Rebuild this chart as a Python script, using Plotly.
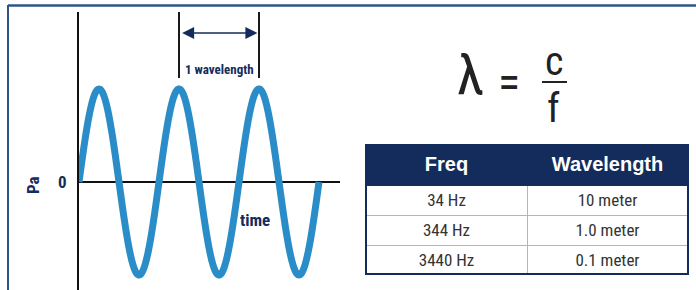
import numpy as np
import plotly.graph_objects as go

# ---- data ----
freq_labels = ["34 Hz", "344 Hz", "3440 Hz"]
wavelength_labels = ["10 meter", "1.0 meter", "0.1 meter"]
table_headers = ["Freq", "Wavelength"]
n_cycles = 3                 # number of full waves shown
wave_peak_marks = [1.25, 2.25]  # time (in periods) of the peaks bracketed as "1 wavelength"

W, H = 696, 290
NAVY = "#142c5c"
BLUE = "#2b8dc8"
BORDER = "#2f5588"
NARROW = "Liberation Sans Narrow, Roboto Condensed, Arial Narrow, Liberation Sans, Arial"
SANS = "Liberation Sans, Arial"


def px(x):
    return x / W


def py(y):
    return 1 - y / H


# wave illustration
t = np.linspace(0, n_cycles, 600)
pressure = np.sin(2 * np.pi * t)

fig = go.Figure()
fig.add_trace(go.Scatter(x=t, y=pressure, mode="lines",
                         line=dict(color=BLUE, width=7, shape="spline"),
                         hoverinfo="skip", showlegend=False))

# table
fig.add_trace(go.Table(
    domain=dict(x=[px(366), px(688)], y=[py(275), py(145)]),
    columnwidth=[1, 1],
    header=dict(values=["<b>%s</b>" % h for h in table_headers],
                fill_color=NAVY, line_color=NAVY, height=40, align="center",
                font=dict(color="white", size=20, family=SANS)),
    cells=dict(values=[freq_labels, wavelength_labels],
               fill_color="white", line_color="#b5b5b5", height=30, align="center",
               font=dict(color="#333333", size=17, family=NARROW)),
))

y_zero_px, amp_px = 182, 93
y_top_px, y_bot_px = 12, 290
x_left_px, x_right_px, period_px = 79, 340, 80

fig.update_layout(
    width=W, height=H, margin=dict(l=0, r=0, t=0, b=0),
    paper_bgcolor="white", plot_bgcolor="white",
    xaxis=dict(domain=[px(x_left_px), px(x_right_px)],
               range=[0, (x_right_px - x_left_px) / period_px],
               showgrid=False, zeroline=False, showticklabels=False, ticks="",
               showline=False, fixedrange=True),
    yaxis=dict(domain=[0, py(y_top_px)],
               range=[-(y_bot_px - y_zero_px) / amp_px, (y_zero_px - y_top_px) / amp_px],
               showgrid=False, zeroline=True, zerolinecolor="#111111", zerolinewidth=2,
               showline=True, linecolor="#111111", linewidth=2,
               tickvals=[0], ticktext=["<b>0</b>"], ticks="", ticklabelstandoff=7,
               tickfont=dict(size=17, color=NAVY, family=NARROW), fixedrange=True),
)


def note(x, y, text, size, color, ref="paper", family=NARROW, **kw):
    fig.add_annotation(x=x, y=y, xref=ref if ref == "paper" else "x", yref=ref if ref == "paper" else "y",
                       text=text, showarrow=False, xanchor="center", yanchor="middle",
                       font=dict(size=size, color=color, family=family), **kw)


mark_bottom = (y_zero_px - 78) / amp_px
mark_top = (y_zero_px - y_top_px) / amp_px
for tm in wave_peak_marks:
    fig.add_shape(type="line", xref="x", yref="y", x0=tm, x1=tm, y0=mark_bottom, y1=mark_top,
                  line=dict(color="#1a1a1a", width=2))

arrow_y = (y_zero_px - 33) / amp_px
fig.add_annotation(x=wave_peak_marks[1] - 0.02, y=arrow_y, ax=wave_peak_marks[0] + 0.02, ay=arrow_y,
                   xref="x", yref="y", axref="x", ayref="y", text="", showarrow=True,
                   arrowside="end+start", arrowhead=2, arrowsize=1.6, arrowwidth=1.5,
                   arrowcolor=NAVY)
note(sum(wave_peak_marks) / 2, (y_zero_px - 70) / amp_px, "<b>1 wavelength</b>", 13, NAVY, ref="data")
note((255 - x_left_px) / period_px, (y_zero_px - 220) / amp_px, "<b>time</b>", 17, NAVY, ref="data")
note(px(33), py(185), "<b>Pa</b>", 17, NAVY, textangle=-90)

# formula  λ = c / f
note(px(470), py(75), "λ", 56, "#222222")
note(px(509), py(82), "=", 46, "#222222")
note(px(554), py(62), "c", 40, "#222222")
note(px(553), py(108), "f", 40, "#222222")
fig.add_shape(type="line", xref="paper", yref="paper", x0=px(542), x1=px(567), y0=py(82), y1=py(82),
              line=dict(color="#222222", width=2))

# table outline and frame
fig.add_shape(type="rect", xref="paper", yref="paper", x0=px(366), x1=px(688), y0=py(274), y1=py(145),
              line=dict(color=NAVY, width=2))
fig.add_shape(type="line", xref="paper", yref="paper", x0=px(8), x1=1, y0=py(5.5), y1=py(5.5),
              line=dict(color=BORDER, width=2.5))
fig.add_shape(type="line", xref="paper", yref="paper", x0=px(8), x1=px(8), y0=py(5), y1=0,
              line=dict(color=BORDER, width=2))

fig.write_html("out.html", config={"displayModeBar": False},
               post_script="document.body.style.margin='0';")
